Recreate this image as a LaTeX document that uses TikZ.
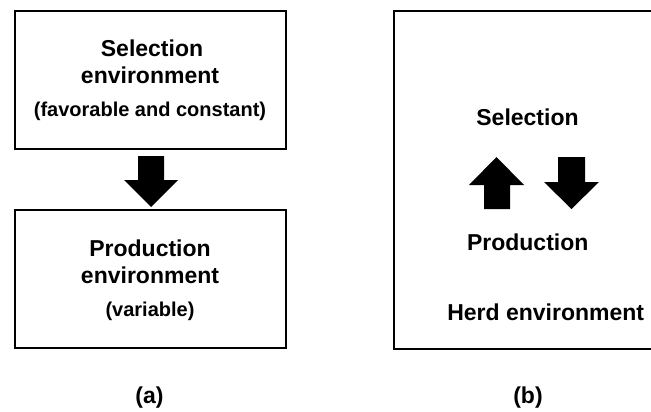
\documentclass[tikz,border=0pt]{standalone}
\usepackage{fontspec}
\setmainfont{Liberation Sans}
\begin{document}
\begin{tikzpicture}[x=1pt,y=-1pt,
  lbl/.style={anchor=base, inner sep=0pt, font=\bfseries\fontsize{23}{27}\selectfont},
  sub/.style={anchor=base, inner sep=0pt, font=\bfseries\fontsize{20}{24}\selectfont},
  boxframe/.style={draw=black, line width=2.6pt, inner sep=0pt, outer sep=0pt},
  blockarrow/.style={fill=black}]
\useasboundingbox (0,0) rectangle (651,412);
\fill[white] (0,0) rectangle (651,412);
\clip (0,0) rectangle (651,412);
% boxes
\node[boxframe, minimum width=271pt, minimum height=138pt] (selbox) at (150.5,80) {};
\node[boxframe, minimum width=271pt, minimum height=138pt] (prodbox) at (150.5,279) {};
\node[boxframe, minimum width=266pt, minimum height=338pt] (herdbox) at (527,180) {};
% left arrow
\fill[blockarrow] (138,156) -- (164,156) -- (164,180) -- (178,180) -- (151,207) -- (124,180) -- (138,180) -- cycle;
% right arrows
\fill[blockarrow] (484,209) -- (510,209) -- (510,185) -- (524,185) -- (496.5,157) -- (469,185) -- (484,185) -- cycle;
\fill[blockarrow] (558,157) -- (585,157) -- (585,182) -- (599,182) -- (571.5,209) -- (544,182) -- (558,182) -- cycle;
% texts left
\node[lbl] (sel1) at (152,56.5) {Selection};
\node[lbl] (env1) at (150,83.5) {environment};
\node[sub] (fav) at (150,116.5) {(favorable and constant)};
\node[lbl] (prod1) at (150,256) {Production};
\node[lbl] (env2) at (150,283) {environment};
\node[sub] (var) at (150,316.5) {(variable)};
\node[lbl] (la) at (149.5,403) {(a)};
% texts right
\node[lbl] (sel2) at (527.5,125.3) {Selection};
\node[lbl] (prod2) at (527.7,250) {Production};
\node[lbl] (herd) at (545.7,320) {Herd environment};
\node[lbl] (lb) at (528,403) {(b)};
\end{tikzpicture}
\end{document}
